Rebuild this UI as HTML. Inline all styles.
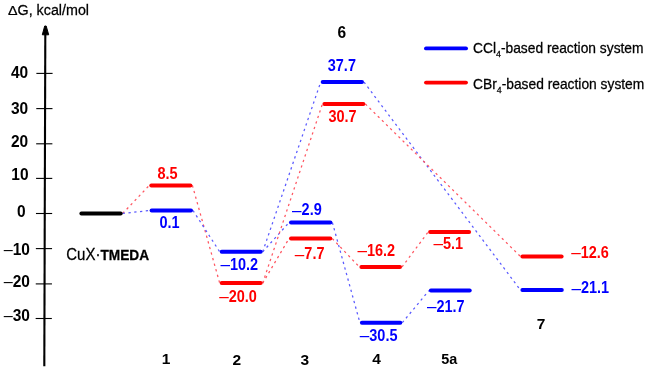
<!DOCTYPE html>
<html><head><meta charset="utf-8"><style>
html,body{margin:0;padding:0;background:#fff;}
svg{display:block;}
text{font-family:"Liberation Sans",Arial,sans-serif;}
.rg{stroke:#000;stroke-width:0.25px;}
.v{font-weight:bold;font-size:14.5px;}
.d{font-weight:normal;font-size:17.1px;}
.c{font-weight:bold;font-size:15.5px;fill:#000;}
.a{font-weight:bold;font-size:15.5px;fill:#000;text-anchor:end;}
.d2{font-weight:normal;font-size:16.2px;}
</style></head><body>
<svg width="647" height="368" viewBox="0 0 647 368">

<line x1="122.7" y1="213.4" x2="149.3" y2="185.4" stroke="#ff5560" stroke-width="1.25" stroke-dasharray="2.3 3.5"/>
<line x1="122.7" y1="213.4" x2="149.6" y2="210.5" stroke="#5a5aff" stroke-width="1.25" stroke-dasharray="2.3 3.5"/>
<line x1="192.4" y1="185.4" x2="219.7" y2="283.1" stroke="#ff5560" stroke-width="1.25" stroke-dasharray="2.3 3.5"/>
<line x1="193.0" y1="210.5" x2="219.7" y2="251.8" stroke="#5a5aff" stroke-width="1.25" stroke-dasharray="2.3 3.5"/>
<line x1="262.7" y1="251.8" x2="289.0" y2="222.6" stroke="#5a5aff" stroke-width="1.25" stroke-dasharray="2.3 3.5"/>
<line x1="262.7" y1="251.8" x2="320.7" y2="82.1" stroke="#5a5aff" stroke-width="1.25" stroke-dasharray="2.3 3.5"/>
<line x1="262.7" y1="283.1" x2="289.0" y2="238.6" stroke="#ff5560" stroke-width="1.25" stroke-dasharray="2.3 3.5"/>
<line x1="262.7" y1="283.1" x2="322.4" y2="104.0" stroke="#ff5560" stroke-width="1.25" stroke-dasharray="2.3 3.5"/>
<line x1="332.4" y1="222.6" x2="359.9" y2="322.7" stroke="#5a5aff" stroke-width="1.25" stroke-dasharray="2.3 3.5"/>
<line x1="332.3" y1="238.6" x2="359.4" y2="267.0" stroke="#ff5560" stroke-width="1.25" stroke-dasharray="2.3 3.5"/>
<line x1="402.3" y1="322.7" x2="428.9" y2="290.6" stroke="#5a5aff" stroke-width="1.25" stroke-dasharray="2.3 3.5"/>
<line x1="402.0" y1="267.0" x2="428.1" y2="232.1" stroke="#ff5560" stroke-width="1.25" stroke-dasharray="2.3 3.5"/>
<line x1="364.0" y1="82.1" x2="520.4" y2="290.0" stroke="#5a5aff" stroke-width="1.25" stroke-dasharray="2.3 3.5"/>
<line x1="365.4" y1="104.0" x2="520.4" y2="256.4" stroke="#ff5560" stroke-width="1.25" stroke-dasharray="2.3 3.5"/>
<line x1="81.4" y1="213.4" x2="120.7" y2="213.4" stroke="#000" stroke-width="4" stroke-linecap="round"/>
<line x1="151.3" y1="185.4" x2="190.4" y2="185.4" stroke="#f00" stroke-width="4" stroke-linecap="round"/>
<line x1="151.6" y1="210.5" x2="191.0" y2="210.5" stroke="#00f" stroke-width="4" stroke-linecap="round"/>
<line x1="221.7" y1="251.8" x2="260.7" y2="251.8" stroke="#00f" stroke-width="4" stroke-linecap="round"/>
<line x1="221.7" y1="283.1" x2="260.7" y2="283.1" stroke="#f00" stroke-width="4" stroke-linecap="round"/>
<line x1="291.0" y1="222.6" x2="330.4" y2="222.6" stroke="#00f" stroke-width="4" stroke-linecap="round"/>
<line x1="291.0" y1="238.6" x2="330.3" y2="238.6" stroke="#f00" stroke-width="4" stroke-linecap="round"/>
<line x1="322.7" y1="82.1" x2="362.0" y2="82.1" stroke="#00f" stroke-width="4" stroke-linecap="round"/>
<line x1="324.4" y1="104.0" x2="363.4" y2="104.0" stroke="#f00" stroke-width="4" stroke-linecap="round"/>
<line x1="361.4" y1="267.0" x2="400.0" y2="267.0" stroke="#f00" stroke-width="4" stroke-linecap="round"/>
<line x1="361.9" y1="322.7" x2="400.3" y2="322.7" stroke="#00f" stroke-width="4" stroke-linecap="round"/>
<line x1="430.1" y1="232.1" x2="469.1" y2="232.1" stroke="#f00" stroke-width="4" stroke-linecap="round"/>
<line x1="430.9" y1="290.6" x2="469.7" y2="290.6" stroke="#00f" stroke-width="4" stroke-linecap="round"/>
<line x1="522.4" y1="256.4" x2="561.6" y2="256.4" stroke="#f00" stroke-width="4" stroke-linecap="round"/>
<line x1="522.4" y1="290.0" x2="561.8" y2="290.0" stroke="#00f" stroke-width="4" stroke-linecap="round"/>
<line x1="45.31" y1="33" x2="44.30" y2="366.3" stroke="#000" stroke-width="2.1"/>
<path d="M44.7 26 L46.2 26 L48.7 34.8 L42.3 34.8 Z" fill="#000" stroke="#000" stroke-width="1" stroke-linejoin="round"/>
<line x1="36.38" y1="73.4" x2="52.58" y2="73.4" stroke="#000" stroke-width="1.1"/>
<line x1="36.28" y1="108.6" x2="52.48" y2="108.6" stroke="#000" stroke-width="1.1"/>
<line x1="36.17" y1="143.8" x2="52.37" y2="143.8" stroke="#000" stroke-width="1.1"/>
<line x1="36.07" y1="178.4" x2="52.27" y2="178.4" stroke="#000" stroke-width="1.1"/>
<line x1="35.96" y1="213.5" x2="52.16" y2="213.5" stroke="#000" stroke-width="1.1"/>
<line x1="35.85" y1="248.6" x2="52.05" y2="248.6" stroke="#000" stroke-width="1.1"/>
<line x1="35.75" y1="283.9" x2="51.95" y2="283.9" stroke="#000" stroke-width="1.1"/>
<line x1="35.64" y1="318.5" x2="51.84" y2="318.5" stroke="#000" stroke-width="1.1"/>
<line x1="426" y1="48.4" x2="466" y2="48.4" stroke="#00f" stroke-width="3.9" stroke-linecap="round"/>
<line x1="426" y1="82.6" x2="466" y2="82.6" stroke="#f00" stroke-width="3.9" stroke-linecap="round"/>
<text class="a" transform="translate(28.20 77.50) scale(1.000 1.020)">40</text>
<text class="a" transform="translate(28.20 113.60) scale(1.000 1.020)">30</text>
<text class="a" transform="translate(28.20 147.20) scale(1.000 1.020)">20</text>
<text class="a" transform="translate(28.60 179.70) scale(1.000 1.020)">10</text>
<text class="a" transform="translate(25.60 216.60) scale(1.000 1.020)">0</text>
<text class="a" transform="translate(29.90 254.50) scale(1.000 1.020)"><tspan class="d2" dy="0.10">–</tspan><tspan dy="-0.10">10</tspan></text>
<text class="a" transform="translate(29.90 286.90) scale(1.000 1.020)"><tspan class="d2" dy="0.10">–</tspan><tspan dy="-0.10">20</tspan></text>
<text class="a" transform="translate(29.90 321.30) scale(1.000 1.020)"><tspan class="d2" dy="0.10">–</tspan><tspan dy="-0.10">30</tspan></text>
<text class="v" fill="#f00" transform="translate(157.45 178.80) scale(1.000 1.090)">8.5</text>
<text class="v" fill="#00f" transform="translate(159.40 227.80) scale(1.000 1.090)">0.1</text>
<text class="v" fill="#00f" transform="translate(220.40 269.75) scale(1.000 1.090)"><tspan class="d" dy="0.10">–</tspan><tspan dy="-0.10">10.2</tspan></text>
<text class="v" fill="#f00" transform="translate(219.15 302.20) scale(1.000 1.090)"><tspan class="d" dy="0.10">–</tspan><tspan dy="-0.10">20.0</tspan></text>
<text class="v" fill="#00f" transform="translate(292.10 215.40) scale(1.000 1.090)"><tspan class="d" dy="0.10">–</tspan><tspan dy="-0.10">2.9</tspan></text>
<text class="v" fill="#f00" transform="translate(294.85 259.40) scale(1.000 1.090)"><tspan class="d" dy="0.10">–</tspan><tspan dy="-0.10">7.7</tspan></text>
<text class="v" fill="#00f" transform="translate(327.75 71.15) scale(1.000 1.090)">37.7</text>
<text class="v" fill="#f00" transform="translate(328.45 122.20) scale(1.000 1.090)">30.7</text>
<text class="v" fill="#f00" transform="translate(357.45 255.90) scale(1.000 1.090)"><tspan class="d" dy="0.10">–</tspan><tspan dy="-0.10">16.2</tspan></text>
<text class="v" fill="#00f" transform="translate(359.75 341.20) scale(1.000 1.090)"><tspan class="d" dy="0.10">–</tspan><tspan dy="-0.10">30.5</tspan></text>
<text class="v" fill="#f00" transform="translate(433.50 249.30) scale(1.000 1.090)"><tspan class="d" dy="0.10">–</tspan><tspan dy="-0.10">5.1</tspan></text>
<text class="v" fill="#00f" transform="translate(426.95 311.50) scale(1.000 1.090)"><tspan class="d" dy="0.10">–</tspan><tspan dy="-0.10">21.7</tspan></text>
<text class="v" fill="#f00" transform="translate(571.15 257.80) scale(1.000 1.090)"><tspan class="d" dy="0.10">–</tspan><tspan dy="-0.10">12.6</tspan></text>
<text class="v" fill="#00f" transform="translate(571.40 293.40) scale(1.000 1.090)"><tspan class="d" dy="0.10">–</tspan><tspan dy="-0.10">21.1</tspan></text>
<text class="c" transform="translate(337.40 38.40) scale(1.000 1.080)">6</text>
<text class="c" transform="translate(161.80 364.40) scale(1.000 1.000)">1</text>
<text class="c" transform="translate(232.55 364.60) scale(1.000 1.000)">2</text>
<text class="c" transform="translate(300.60 364.60) scale(1.000 1.000)">3</text>
<text class="c" transform="translate(372.30 364.00) scale(1.000 1.000)">4</text>
<text class="c" transform="translate(441.30 364.40) scale(0.930 1.000)">5a</text>
<text class="c" transform="translate(536.80 328.60) scale(1.000 1.000)">7</text>
<text class="rg" font-size="14.3" fill="#000" transform="translate(8.00 14.80) scale(1.000 0.900)">Δ</text>
<text class="rg" font-size="14.3" fill="#000" transform="translate(17.55 14.80) scale(1.000 1.040)">G, kcal/mol</text>
<text class="rg" font-size="15" fill="#000" transform="translate(66.30 259.60) scale(1.000 1.100)">CuX·<tspan font-weight="bold" font-size="13.7">TMEDA</tspan></text>
<text class="rg" font-size="13.8" fill="#000" transform="translate(473.00 52.60) scale(1.000 1.080)">CCl<tspan font-size="8.8" dy="4.3">4</tspan><tspan dy="-4.3">-based reaction system</tspan></text>
<text class="rg" font-size="13.8" fill="#000" transform="translate(473.00 88.50) scale(1.000 1.080)">CBr<tspan font-size="8.8" dy="4.3">4</tspan><tspan dy="-4.3">-based reaction system</tspan></text>
</svg>
</body></html>
